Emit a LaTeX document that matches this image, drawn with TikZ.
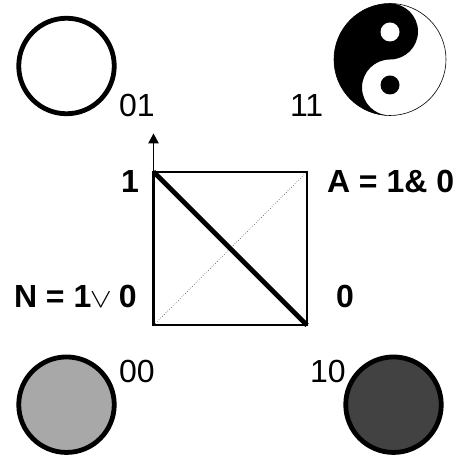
\documentclass[tikz,border=0pt]{standalone}
\usepackage{graphicx}
\usepackage{fontspec}
\setmainfont{Liberation Sans}
\usetikzlibrary{arrows.meta}
\tikzset{
  disc/.style={circle,draw=black,line width=4.8pt,minimum size=95.5pt,inner sep=0pt,outer sep=0pt},
  lab/.style={anchor=base west,inner sep=0pt,outer sep=0pt,font=\fontsize{32}{32}\selectfont},
  blab/.style={lab,font=\fontsize{32}{32}\selectfont\bfseries},
  sq/.style={draw=black,line width=2.2pt,line join=miter},
}
\begin{document}
\begin{tikzpicture}[x=1pt,y=1pt]
\useasboundingbox (0,0) rectangle (455,457);
\fill[white] (0,0) rectangle (455,457);
% corners of the square
\coordinate (bl) at (153.5,131.7);
\coordinate (br) at (307,131.7);
\coordinate (tr) at (307,285.3);
\coordinate (tl) at (153.5,285.3);
\coordinate (tip) at (153.5,323.5);
% discs
\node[disc,fill=white] (d01) at (66.5,391) {};
\node[disc,fill=black!34] (d00) at (66.5,52.3) {};
\node[disc,fill=black!74] (d10) at (393.5,52.3) {};
% yin-yang
\coordinate (yy) at (390,397.5);
\node[circle,draw=black,line width=0.6pt,minimum size=112pt,inner sep=0pt,outer sep=0pt] (yin) at (yy) {};
\fill[black] (390,453.5) arc[start angle=90,end angle=270,radius=56]
  arc[start angle=270,end angle=90,radius=28]
  arc[start angle=270,end angle=450,radius=28] -- cycle;
\node[circle,fill=white,minimum size=19pt,inner sep=0pt] (yw) at (390,425) {};
\node[circle,fill=black,minimum size=19pt,inner sep=0pt] (yb) at (390,372) {};
% square and lines
\draw[black,line width=0.5pt,dotted] (bl) -- (tr);
\draw[sq] (bl) -- (br) -- (tr) -- (tl) -- cycle;
\draw[black,line width=1.2pt,-{Triangle[length=10pt,width=10.5pt]}] (tl) -- (tip);
\draw[black,line width=4.8pt] (tl) -- (br);
% labels
\node[lab] (l01) at (119,340.3) {01};
\node[lab] (l11) at (290,340.3) {11};
\node[lab] (l00) at (119,74) {00};
\node[lab] (l10) at (310,74) {10};
\node[blab] (one) at (121,264.3) {1};
\node[blab] (and) at (327,264.3) {A = 1\& 0};
\node[blab] (nor) at (14,149) {N = 1\kern-1.5pt\scalebox{3.3}[2.7]{\normalsize$\vee$}\kern-2pt{} 0};
\node[blab] (zero) at (336,149) {0};
\end{tikzpicture}
\end{document}
